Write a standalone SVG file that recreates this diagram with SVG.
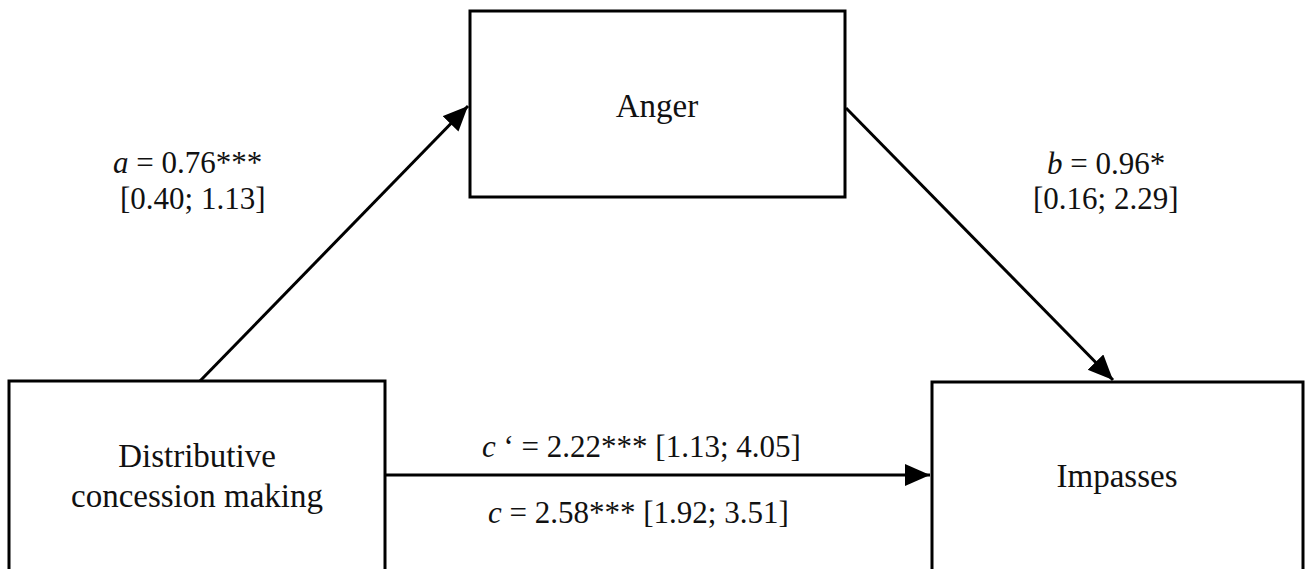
<svg xmlns="http://www.w3.org/2000/svg" width="1305" height="569" viewBox="0 0 1305 569">
<style>
.box{fill:#fff;stroke:#000;stroke-width:3}
.node{font-family:"Liberation Serif","Times New Roman",serif;font-size:33px;fill:#111;text-anchor:middle}
.lbl{font-family:"Liberation Serif","Times New Roman",serif;font-size:31px;fill:#111}
.edge{stroke:#000;stroke-width:3;fill:none;marker-end:url(#ah)}
</style>
<defs>
<marker id="ah" markerUnits="userSpaceOnUse" markerWidth="26" markerHeight="24" refX="25" refY="11" orient="auto">
<path d="M0,0 L25,11 L0,22 Z" fill="#000"/>
</marker>
</defs>
<rect width="1305" height="569" fill="#fff"/>
<g id="connectors">
<line class="edge" x1="200" y1="381" x2="468" y2="106"/>
<line class="edge" x1="846" y1="108" x2="1113" y2="380"/>
<line class="edge" x1="386" y1="475" x2="930" y2="475"/>
</g>
<g id="node-anger">
<rect class="box" x="470" y="11" width="375" height="186"/>
<text class="node" x="657" y="117">Anger</text>
</g>
<g id="node-distributive">
<rect class="box" x="9" y="381" width="376" height="190"/>
<text class="node" x="197" y="467">Distributive</text>
<text class="node" x="197" y="507">concession making</text>
</g>
<g id="node-impasses">
<rect class="box" x="932" y="382" width="371" height="189"/>
<text class="node" x="1117" y="487">Impasses</text>
</g>
<g id="labels">
<text class="lbl" x="113" y="173"><tspan font-style="italic">a</tspan> = 0.76***</text>
<text class="lbl" x="120" y="209">[0.40; 1.13]</text>
<text class="lbl" x="1047" y="174"><tspan font-style="italic">b</tspan> = 0.96*</text>
<text class="lbl" x="1033" y="209">[0.16; 2.29]</text>
<text class="lbl" x="482" y="457"><tspan font-style="italic">c</tspan> ‘ = 2.22*** [1.13; 4.05]</text>
<text class="lbl" x="488" y="523"><tspan font-style="italic">c</tspan> = 2.58*** [1.92; 3.51]</text>
</g>
</svg>
